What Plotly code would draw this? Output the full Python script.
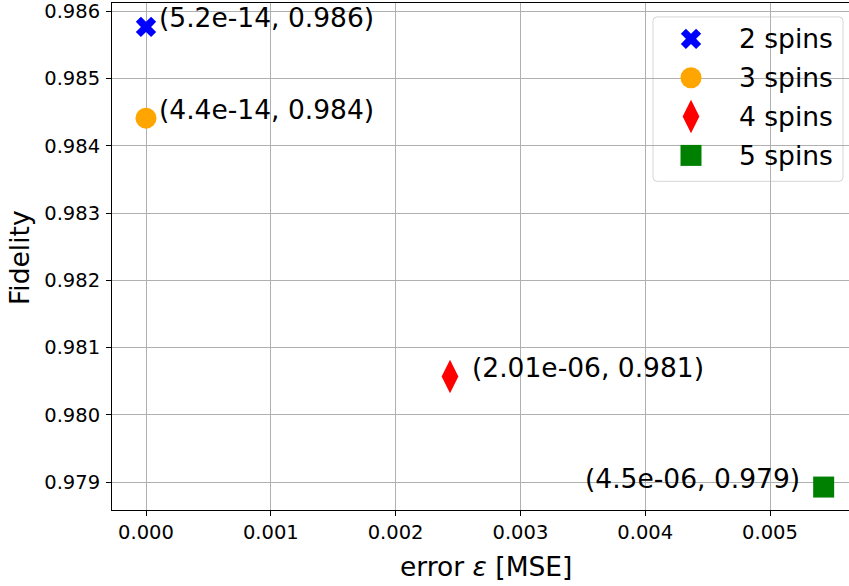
import plotly.graph_objects as go

# Fidelity versus reconstruction error for spin chains of different length
series = ["2 spins", "3 spins", "4 spins", "5 spins"]
error_mse = [0.0, 0.0, 0.002436, 0.005430]
fidelity = [0.985766, 0.984409, 0.980570, 0.978927]
point_labels = ["(5.2e-14, 0.986)", "(4.4e-14, 0.984)", "(2.01e-06, 0.981)", "(4.5e-06, 0.979)"]

x_ticks = [0.000, 0.001, 0.002, 0.003, 0.004, 0.005]
x_tick_text = ["0.000", "0.001", "0.002", "0.003", "0.004", "0.005"]
y_ticks = [0.979, 0.980, 0.981, 0.982, 0.983, 0.984, 0.985, 0.986]
y_tick_text = ["0.979", "0.980", "0.981", "0.982", "0.983", "0.984", "0.985", "0.986"]

# marker styling per series
colors = ["#0000ff", "#ffa500", "#ff0000", "#008000"]
symbols = ["x", "circle", "diamond-tall", "square"]
sizes = [18, 21, 24, 21]
# label placement (pixels) relative to each marker
label_offsets = [(11, 9, "left"), (11, 9, "left"), (20, 9, "left"), (-22, 9, "right")]

FONT = "DejaVu Sans"
TEXT_SIZE = 26.5
TICK_SIZE = 19.5
W, H = 849, 586
L, R, T, B = 112, 0, 1, 76

fig = go.Figure()

for i, name in enumerate(series):
    fig.add_trace(go.Scatter(
        x=[error_mse[i]], y=[fidelity[i]], mode="markers", name=name,
        marker=dict(symbol=symbols[i], size=sizes[i], color=colors[i], line=dict(width=0)),
        showlegend=False, cliponaxis=False, hoverinfo="skip",
    ))
    dx, dy, anchor = label_offsets[i]
    fig.add_annotation(
        x=error_mse[i], y=fidelity[i], xref="x", yref="y", text=point_labels[i],
        showarrow=False, xanchor=anchor, yanchor="middle", xshift=dx, yshift=dy,
        font=dict(family=FONT, size=TEXT_SIZE, color="black"),
    )

# Legend drawn on a pixel-unit overlay axis
px_x0, px_x1 = L, W - R
px_y0, px_y1 = H - B, T
box_l, box_r, box_t, box_b, rad = 653, 843, 15, 180, 4
legend_marker_x = 691
legend_text_x = 737
legend_row0, legend_step = 37, 39

fig.add_shape(
    type="path", xref="x2", yref="y2", layer="below",
    path=(f"M{box_l+rad},{box_t} L{box_r-rad},{box_t} Q{box_r},{box_t} {box_r},{box_t+rad} "
          f"L{box_r},{box_b-rad} Q{box_r},{box_b} {box_r-rad},{box_b} L{box_l+rad},{box_b} "
          f"Q{box_l},{box_b} {box_l},{box_b-rad} L{box_l},{box_t+rad} Q{box_l},{box_t} {box_l+rad},{box_t} Z"),
    fillcolor="rgba(255,255,255,0.8)", line=dict(color="#d5d5d5", width=1),
)
for i, name in enumerate(series):
    ry = legend_row0 + i * legend_step
    fig.add_trace(go.Scatter(
        x=[legend_marker_x], y=[ry], xaxis="x2", yaxis="y2", mode="markers",
        marker=dict(symbol=symbols[i], size=sizes[i], color=colors[i], line=dict(width=0)),
        showlegend=False, hoverinfo="skip",
    ))
    fig.add_annotation(
        x=legend_text_x, y=ry, xref="x2", yref="y2", text=name, showarrow=False,
        xanchor="left", yanchor="middle", yshift=0,
        font=dict(family=FONT, size=TEXT_SIZE, color="black"),
    )

# axis titles
plot_w, plot_h = W - L - R, H - T - B
fig.add_annotation(
    x=(486 - L) / plot_w, y=(H - B - 567) / plot_h, xref="paper", yref="paper",
    text="error <i>ε</i> [MSE]", showarrow=False, xanchor="center", yanchor="middle",
    font=dict(family=FONT, size=TEXT_SIZE, color="black"),
)
fig.add_annotation(
    x=(20 - L) / plot_w, y=(H - B - 257) / plot_h, xref="paper", yref="paper",
    text="Fidelity", showarrow=False, textangle=-90, xanchor="center", yanchor="middle",
    font=dict(family=FONT, size=TEXT_SIZE, color="black"),
)

axis_common = dict(
    showgrid=True, gridcolor="#b0b0b0", gridwidth=0.8, zeroline=False,
    showline=True, linecolor="black", linewidth=1,
    ticks="outside", ticklen=5, tickwidth=1, tickcolor="black",
    tickfont=dict(family=FONT, size=TICK_SIZE, color="black"),
    ticklabeloverflow="allow",
)

fig.update_layout(
    width=W, height=H,
    margin=dict(l=L, r=R, t=T, b=B, pad=0),
    paper_bgcolor="white", plot_bgcolor="white",
    showlegend=False,
    xaxis=dict(range=[-0.0002724, 0.005633], tickvals=x_ticks, ticktext=x_tick_text,
               mirror=True, **axis_common),
    yaxis=dict(range=[0.978586, 0.986121], tickvals=y_ticks, ticktext=y_tick_text,
               ticklabelstandoff=2, **axis_common),
    xaxis2=dict(range=[px_x0, px_x1], overlaying="x", visible=False, fixedrange=True),
    yaxis2=dict(range=[px_y0, px_y1], overlaying="y", visible=False, fixedrange=True,
                anchor="x2"),
)

fig.write_html("out.html")
